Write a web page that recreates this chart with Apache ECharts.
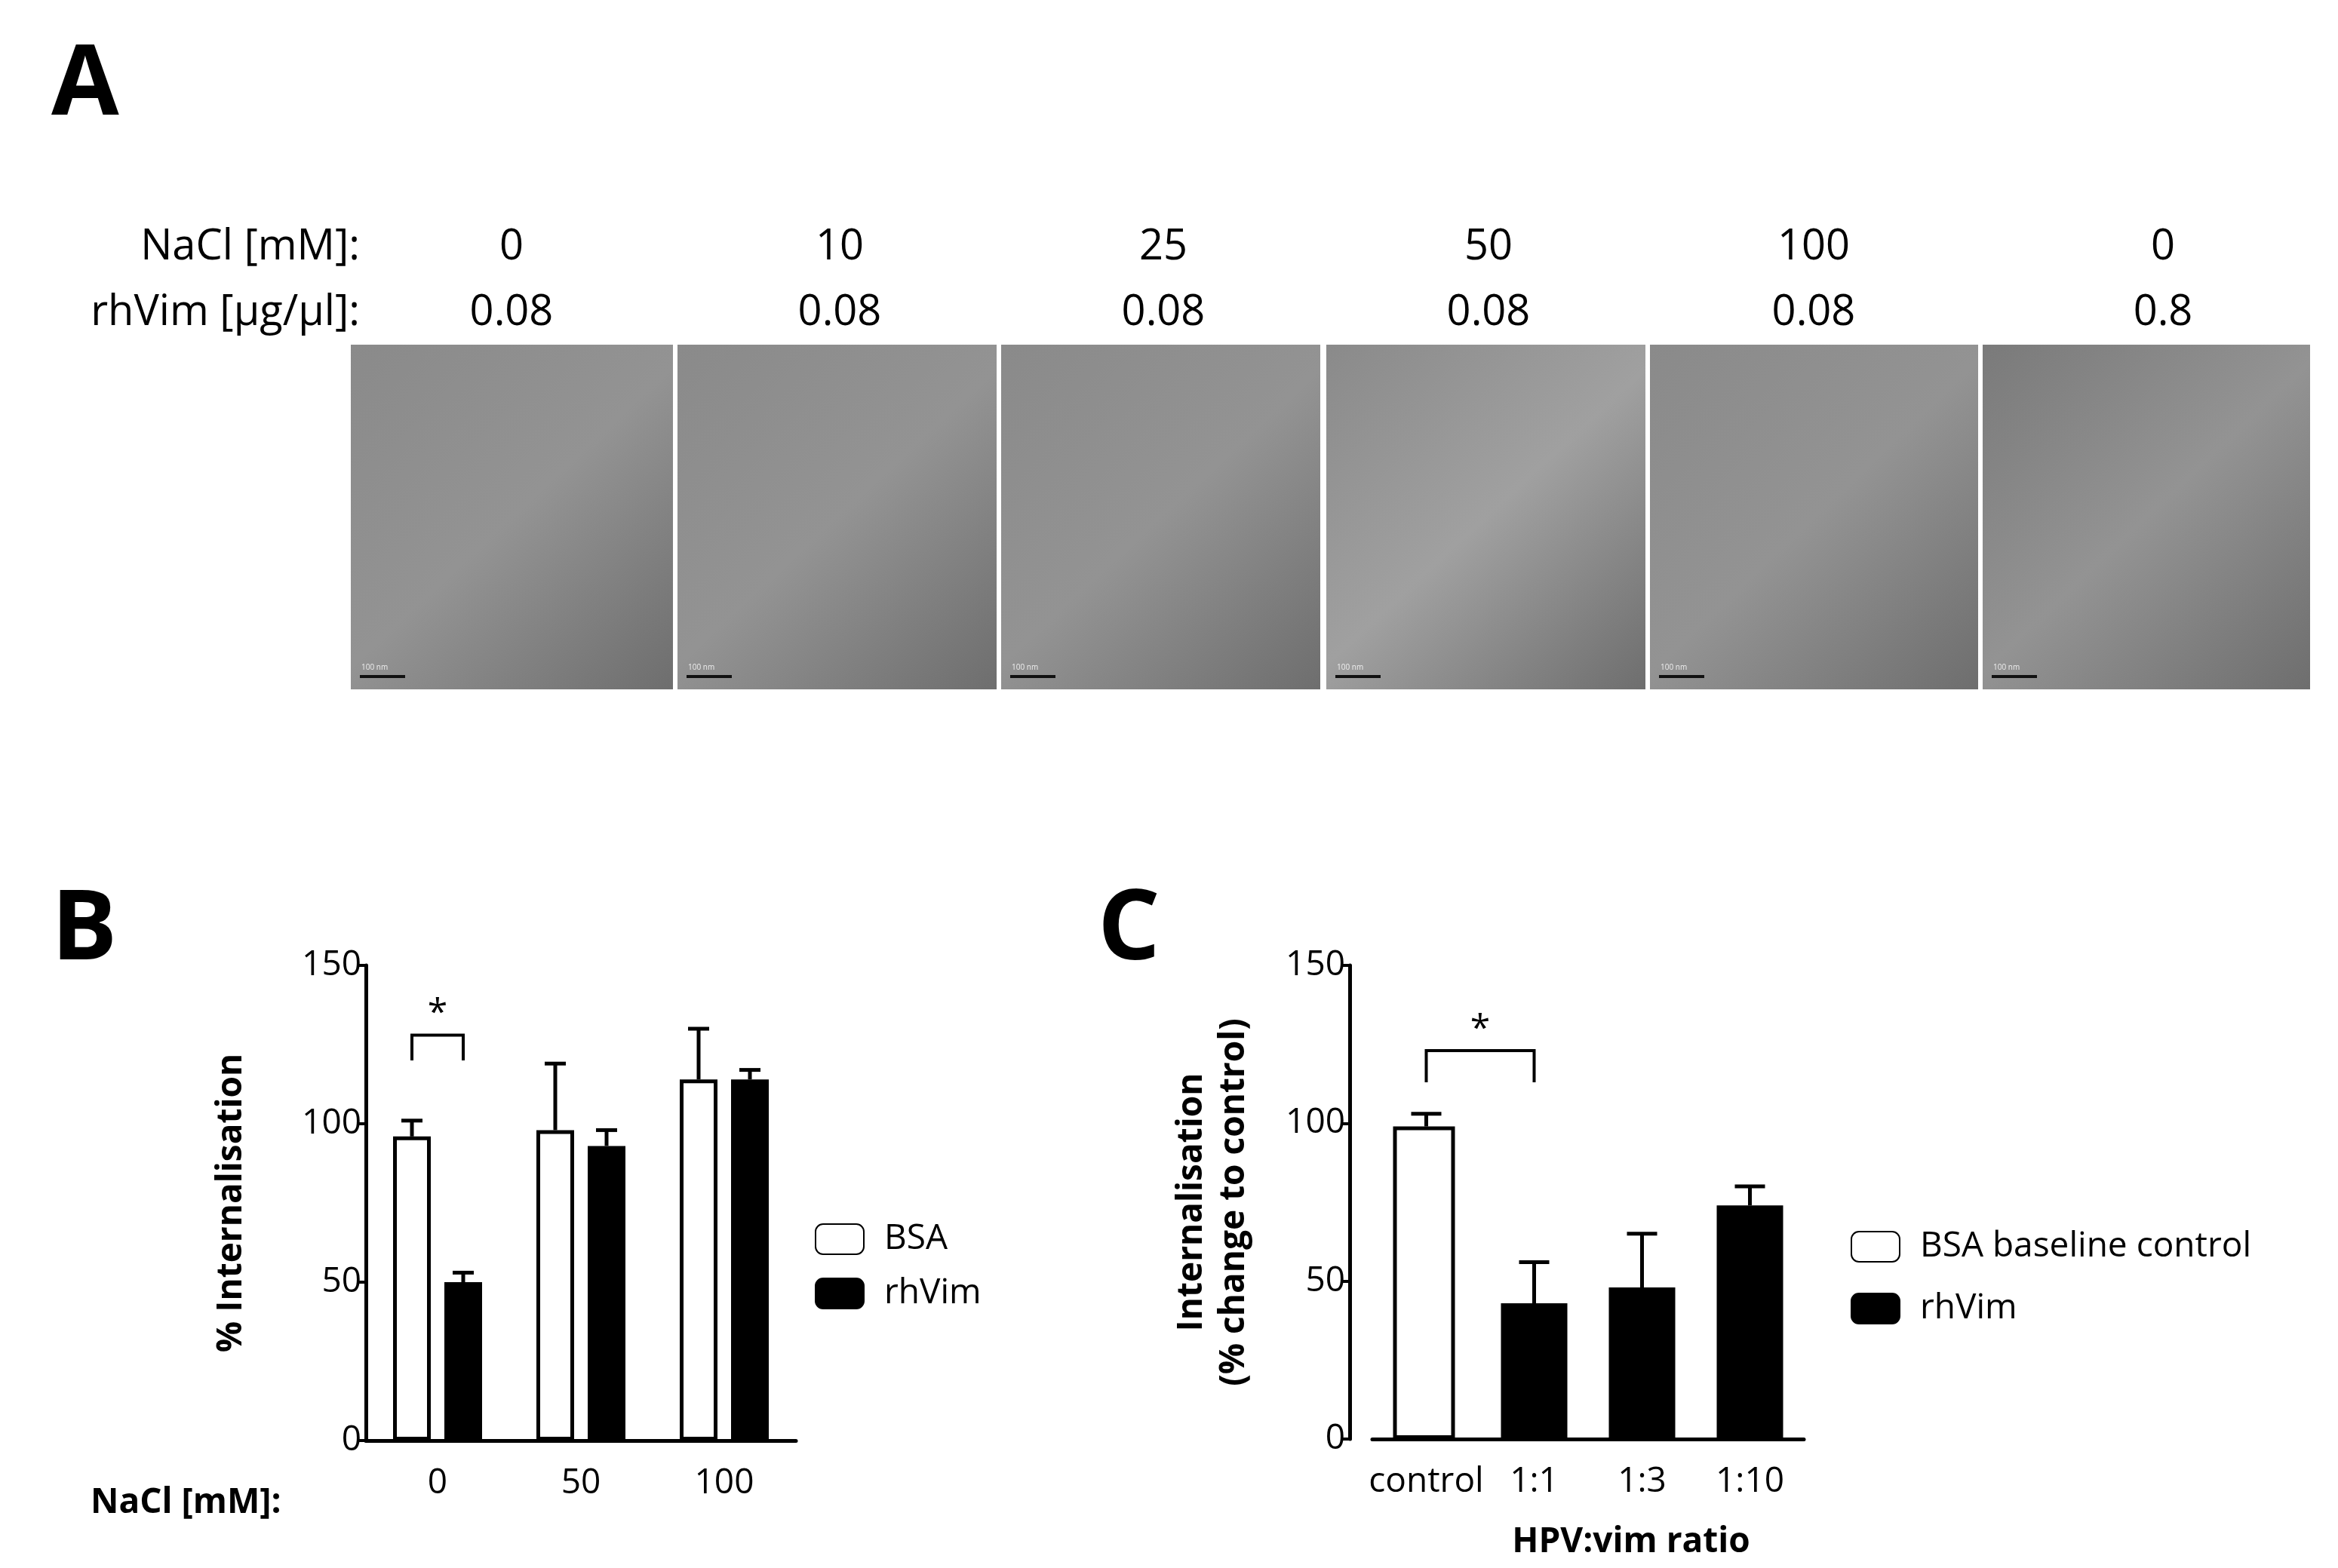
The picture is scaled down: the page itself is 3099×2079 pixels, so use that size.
<!DOCTYPE html>
<html><head><meta charset="utf-8">
<script src="https://cdn.jsdelivr.net/npm/echarts@6/dist/echarts.min.js"></script>
<style>html,body{margin:0;padding:0;background:#fff}#c{width:3099px;height:2079px}</style>
</head><body><div id="c"></div>
<script>
// Panel A labels
const naclA = ['0','10','25','50','100','0'];
const vimA = ['0.08','0.08','0.08','0.08','0.08','0.8'];
// Panel B
const catB = ['0','50','100'];
const bsaB = [96, 98, 114];
const bsaBErr = [5, 21, 16];
const vimB = [50, 93, 114];
const vimBErr = [3, 5, 3];
// Panel C
const catC = ['control','1:1','1:3','1:10'];
const bsaC = [99, null, null, null];
const bsaCErr = [4, null, null, null];
const vimC = [null, 43, 48, 74];
const vimCErr = [null, 13, 17, 6];
const yTicks = [0, 50, 100, 150];
// significance brackets: [cat index a, cat index b, value of bracket top, value of legs bottom]
const sigB = [[0, 0, 128, 120]];
const sigC = [[0, 1, 123, 113]];

const FONT = '"Open Sans",sans-serif';
const chart = echarts.init(document.getElementById('c'));

function errItem(offset, cap) {
  return function (params, api) {
    const v = api.value(1), e = api.value(2);
    if (v == null || isNaN(v)) return;
    const p0 = api.coord([api.value(0), v]);
    const p1 = api.coord([api.value(0), v + e]);
    const x = p0[0] + offset;
    const st = { stroke: '#000', lineWidth: 5 };
    return { type: 'group', children: [
      { type: 'line', shape: { x1: x, y1: p0[1], x2: x, y2: p1[1] }, style: st },
      { type: 'line', shape: { x1: x - cap / 2, y1: p1[1], x2: x + cap / 2, y2: p1[1] }, style: st }
    ]};
  };
}
function errData(vals, errs) { return vals.map((v, i) => [i, v, errs[i]]); }

const graphics = [];
graphics.push({ type: 'text', left: 68, top: 50, style: { text: 'A', font: 'bold 130px ' + FONT, fill: '#000' } });
graphics.push({ type: 'text', left: 68, top: 1170, style: { text: 'B', font: 'bold 130px ' + FONT, fill: '#000' } });
graphics.push({ type: 'text', left: 1455, top: 1170, style: { text: 'C', font: 'bold 130px ' + FONT, fill: '#000' } });
graphics.push({ type: 'text', x: 477, y: 328, style: { text: 'NaCl [mM]:', font: '56px ' + FONT, fill: '#000', align: 'right', verticalAlign: 'middle' } });
graphics.push({ type: 'text', x: 477, y: 415, style: { text: 'rhVim [µg/µl]:', font: '56px ' + FONT, fill: '#000', align: 'right', verticalAlign: 'middle' } });
const colCenters = [678, 1113, 1542, 1973, 2404, 2867];
const imgX = [[465, 892], [898, 1321], [1327, 1750], [1758, 2181], [2187, 2622], [2628, 3062]];
naclA.forEach((t, i) => {
  graphics.push({ type: 'text', x: colCenters[i], y: 328, style: { text: t, font: '56px ' + FONT, fill: '#000', align: 'center', verticalAlign: 'middle' } });
  graphics.push({ type: 'text', x: colCenters[i], y: 415, style: { text: vimA[i], font: '56px ' + FONT, fill: '#000', align: 'center', verticalAlign: 'middle' } });
  const [x0, x1] = imgX[i];
  graphics.push({ type: 'rect', shape: { x: x0, y: 457, width: x1 - x0, height: 457 },
    style: { fill: new echarts.graphic.LinearGradient(0, 0, 1, 1, [
      { offset: 0, color: i === 5 ? '#7a7a7a' : '#8a8a8a' },
      { offset: 0.5, color: i === 3 ? '#a0a0a0' : '#939393' },
      { offset: 1, color: '#6e6e6e' }]) } });
  graphics.push({ type: 'rect', shape: { x: x0 + 12, y: 895, width: 60, height: 4 }, style: { fill: '#111' } });
  graphics.push({ type: 'text', x: x0 + 14, y: 880, style: { text: '100 nm', font: '10px ' + FONT, fill: '#eee' } });
});
graphics.push({ type: 'text', x: 120, y: 1993, style: { text: 'NaCl [mM]:', font: 'bold 46px ' + FONT, fill: '#000', verticalAlign: 'middle' } });
graphics.push({ type: 'text', x: 2162, y: 2045, style: { text: 'HPV:vim ratio', font: 'bold 46px ' + FONT, fill: '#000', align: 'center', verticalAlign: 'middle' } });

function bracketRender(offA, offB) {
  return function (params, api) {
    const a = api.coord([api.value(0), api.value(2)]);
    const b = api.coord([api.value(1), api.value(2)]);
    const legY = api.coord([api.value(0), api.value(3)])[1];
    const xa = a[0] + offA, xb = b[0] + offB;
    const st = { stroke: '#000', lineWidth: 4, fill: null };
    return { type: 'group', children: [
      { type: 'polyline', shape: { points: [[xa, legY], [xa, a[1]], [xb, a[1]], [xb, legY]] }, style: st },
      { type: 'text', style: { text: '*', x: (xa + xb) / 2, y: a[1] - 4, font: '48px ' + FONT, fill: '#000', align: 'center', verticalAlign: 'bottom' } }
    ]};
  };
}

const axisLine = { lineStyle: { color: '#000', width: 5 } };
const yAxisCommon = {
  type: 'value', min: 0, max: 150, interval: 50,
  axisLine: { show: true, ...axisLine },
  axisTick: { show: true, length: 12, lineStyle: { color: '#000', width: 4 } },
  axisLabel: { fontFamily: FONT, fontSize: 46, color: '#000', margin: 6 },
  splitLine: { show: false },
  nameLocation: 'middle', nameRotate: 90,
  nameTextStyle: { fontFamily: FONT, fontWeight: 'bold', fontSize: 46, color: '#000', lineHeight: 56 }
};
const itemWhite = { color: '#fff', borderColor: '#000', borderWidth: 5 };
const itemBlack = { color: '#000', borderColor: '#000', borderWidth: 5 };
const xLab = { fontFamily: FONT, fontSize: 46, color: '#000', margin: 34, interval: 0 };

chart.setOption({
  animation: false,
  backgroundColor: '#fff',
  graphic: graphics,
  grid: [
    { left: 485, top: 1280, width: 570, height: 630 },
    { left: 1819, top: 1280, width: 572, height: 628 }
  ],
  xAxis: [
    { gridIndex: 0, type: 'category', data: catB, axisLine: axisLine,
      axisTick: { alignWithLabel: true, length: 18, lineStyle: { color: '#000', width: 4 } }, axisLabel: xLab },
    { gridIndex: 1, type: 'category', data: catC, axisLine: axisLine,
      axisTick: { alignWithLabel: true, length: 18, lineStyle: { color: '#000', width: 4 } }, axisLabel: xLab }
  ],
  yAxis: [
    { gridIndex: 0, ...yAxisCommon, name: '% Internalisation', nameGap: 150 },
    { gridIndex: 1, ...yAxisCommon, offset: 30, name: 'Internalisation\n(% change to control)', nameGap: 125 }
  ],
  legend: [
    { data: ['BSA', 'rhVim'], orient: 'vertical', left: 1075, top: 1615, itemWidth: 64, itemHeight: 40, itemGap: 26,
      textStyle: { fontFamily: FONT, fontSize: 46, color: '#000', padding: [0, 0, 0, 22] } },
    { data: ['BSA baseline control', 'rhVim '], orient: 'vertical', left: 2448, top: 1625, itemWidth: 64, itemHeight: 40, itemGap: 36,
      textStyle: { fontFamily: FONT, fontSize: 46, color: '#000', padding: [0, 0, 0, 22] } }
  ],
  series: [
    { name: 'BSA', type: 'bar', xAxisIndex: 0, yAxisIndex: 0, data: bsaB, barWidth: 50, barGap: '36%', itemStyle: itemWhite },
    { name: 'rhVim', type: 'bar', xAxisIndex: 0, yAxisIndex: 0, data: vimB, barWidth: 50, itemStyle: itemBlack },
    { type: 'custom', xAxisIndex: 0, yAxisIndex: 0, data: errData(bsaB, bsaBErr), renderItem: errItem(-34, 28), z: 1 },
    { type: 'custom', xAxisIndex: 0, yAxisIndex: 0, data: errData(vimB, vimBErr), renderItem: errItem(34, 28), z: 1 },
    { type: 'custom', xAxisIndex: 0, yAxisIndex: 0, data: sigB, renderItem: bracketRender(-34, 34) },
    { name: 'BSA baseline control', type: 'bar', xAxisIndex: 1, yAxisIndex: 1, data: bsaC, barWidth: 82, barGap: '-100%', itemStyle: itemWhite },
    { name: 'rhVim ', type: 'bar', xAxisIndex: 1, yAxisIndex: 1, data: vimC, barWidth: 88, itemStyle: itemBlack },
    { type: 'custom', xAxisIndex: 1, yAxisIndex: 1, data: errData(bsaC, bsaCErr), renderItem: errItem(0, 40), z: 1 },
    { type: 'custom', xAxisIndex: 1, yAxisIndex: 1, data: errData(vimC, vimCErr), renderItem: errItem(0, 40), z: 1 },
    { type: 'custom', xAxisIndex: 1, yAxisIndex: 1, data: sigC, renderItem: bracketRender(0, 0) }
  ]
});
</script></body></html>
